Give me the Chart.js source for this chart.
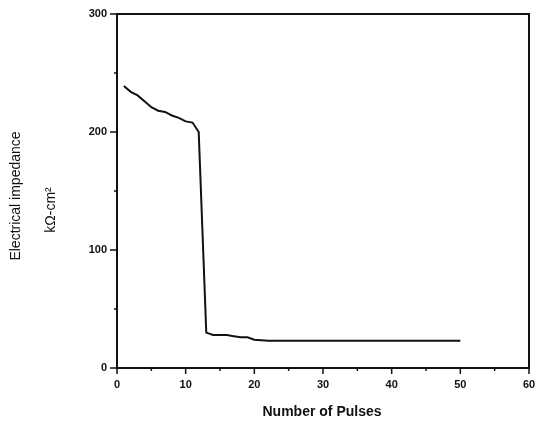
<!DOCTYPE html>
<html>
<head>
<meta charset="utf-8">
<script src="https://cdn.jsdelivr.net/npm/chart.js@4/dist/chart.umd.min.js"></script>
<style>
  html, body { margin: 0; padding: 0; background: #fff; }
  #wrap { width: 538px; height: 423px; }
</style>
</head>
<body>
<div id="wrap"><canvas id="chart" width="538" height="423"></canvas></div>
<script>
// values
const pulses = [1, 2, 3, 4, 5, 6, 7, 8, 9, 10, 11, 11.9, 13, 14, 16, 17, 18, 19, 20, 22, 30, 40, 50];
const impedance = [239, 234, 231, 226, 221, 218, 217, 214, 212, 209, 208, 200, 30, 28, 28, 27, 26, 26, 24, 23, 23, 23, 23];

const xTitle = 'Number of Pulses';
const yTitle = ['Electrical impedance', 'kΩ-cm²'];

const INK = '#111';
const tickFont = { family: 'Liberation Sans', size: 11, weight: 'bold' };

// box round the plot, minor + major ticks, axis titles
const frame = {
  id: 'frame',
  afterDraw(chart) {
    const { ctx, chartArea: a, scales } = chart;
    ctx.save();
    ctx.strokeStyle = INK;
    ctx.lineWidth = 2;
    ctx.strokeRect(a.left, a.top, a.right - a.left, a.bottom - a.top);

    ctx.lineWidth = 1.5;
    ctx.beginPath();
    scales.x.ticks.forEach(t => {
      const px = scales.x.getPixelForValue(t.value);
      const len = t.value % 10 === 0 ? 6 : 3;
      ctx.moveTo(px, a.bottom);
      ctx.lineTo(px, a.bottom + len);
    });
    scales.y.ticks.forEach(t => {
      const py = scales.y.getPixelForValue(t.value);
      const len = t.value % 100 === 0 ? 7 : 3;
      ctx.moveTo(a.left, py);
      ctx.lineTo(a.left - len, py);
    });
    ctx.stroke();

    ctx.fillStyle = INK;
    ctx.textAlign = 'center';
    ctx.textBaseline = 'middle';
    ctx.font = 'bold 14px "Liberation Sans"';
    ctx.fillText(xTitle, 322, 412);

    ctx.font = '14px "Liberation Sans"';
    ctx.translate(16, 196);
    ctx.rotate(-Math.PI / 2);
    ctx.fillText(yTitle[0], 0, 0);
    ctx.restore();

    ctx.save();
    ctx.fillStyle = INK;
    ctx.textAlign = 'center';
    ctx.textBaseline = 'middle';
    ctx.font = '14px "Liberation Sans"';
    ctx.translate(51, 210);
    ctx.rotate(-Math.PI / 2);
    ctx.fillText(yTitle[1], 0, 0);
    ctx.restore();
  },
};

const canvas = document.getElementById('chart');
const chart = new Chart(canvas, {
  type: 'scatter',
  data: {
    datasets: [
      {
        data: pulses.map((p, i) => ({ x: p, y: impedance[i] })),
        showLine: true,
        borderColor: INK,
        borderWidth: 2,
        pointRadius: 0,
        tension: 0,
      },
    ],
  },
  options: {
    responsive: false,
    animation: false,
    events: [],
    layout: { padding: { top: 14, right: 9, left: 0, bottom: 0 } },
    scales: {
      x: {
        type: 'linear',
        min: 0,
        max: 60,
        afterFit(scale) {
          scale.height = 55;
          scale.paddingLeft = 0;
          scale.paddingRight = 0;
        },
        border: { display: true, color: INK, width: 2 },
        grid: { drawOnChartArea: false, drawTicks: false },
        ticks: {
          stepSize: 5,
          autoSkip: false,
          maxRotation: 0,
          padding: 10,
          color: INK,
          font: tickFont,
          callback: v => (v % 10 === 0 ? v : ''),
        },
      },
      y: {
        type: 'linear',
        min: 0,
        max: 300,
        afterFit(scale) {
          scale.width = 117;
          scale.paddingTop = 0;
          scale.paddingBottom = 0;
        },
        border: { display: true, color: INK, width: 2 },
        grid: { drawOnChartArea: false, drawTicks: false },
        ticks: {
          stepSize: 50,
          autoSkip: false,
          padding: 10,
          color: INK,
          font: tickFont,
          callback: v => (v % 100 === 0 ? v : ''),
        },
      },
    },
    plugins: {
      legend: { display: false },
      tooltip: { enabled: false },
    },
  },
  plugins: [frame],
});
</script>
</body>
</html>
